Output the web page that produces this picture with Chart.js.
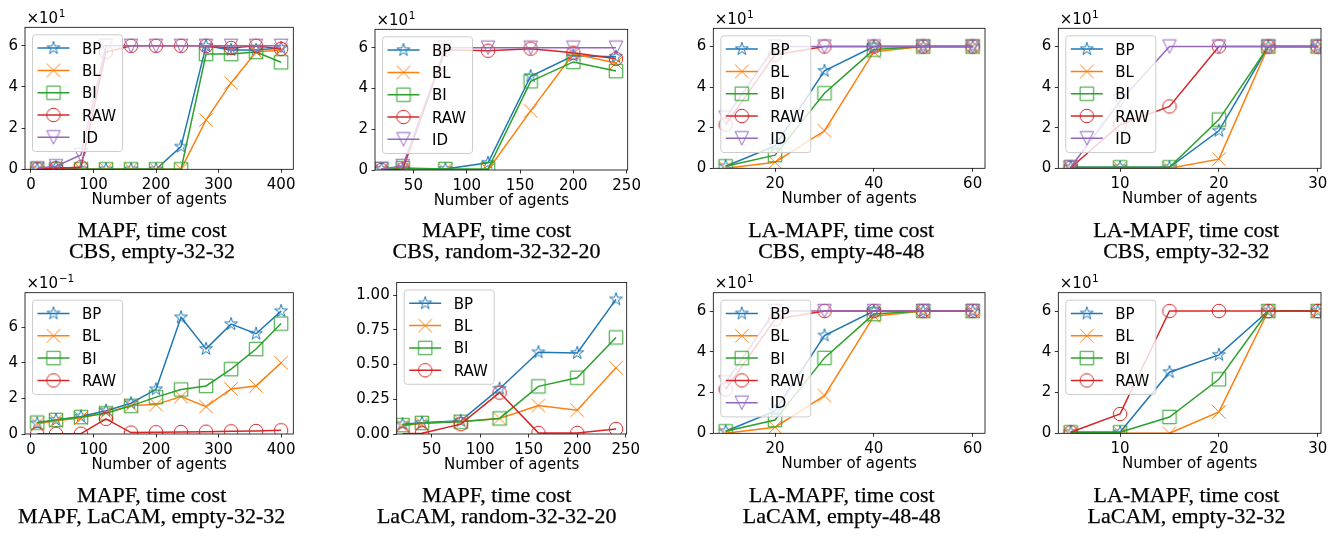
<!DOCTYPE html>
<html><head><meta charset="utf-8">
<script src="https://cdn.jsdelivr.net/npm/chart.js@4.4.0/dist/chart.umd.min.js"></script>
<style>
html,body{margin:0;padding:0;background:#fff;}
#wrap{position:relative;width:1340px;height:540px;overflow:hidden;background:#fff;}
#wrap canvas{position:absolute;}
.cap{position:absolute;font-family:"Liberation Serif","DejaVu Serif",serif;font-size:22px;line-height:22px;color:#000;white-space:nowrap;transform:translateX(-50%);-webkit-text-stroke:0.25px #000;}
</style></head><body><div id="wrap"></div>
<script>
// ---------- data ----------
const seriesNames = ['BP','BL','BI','RAW','ID'];

// Panel 1: MAPF, CBS, empty-32-32 (time cost, s)
const x1 = [10,40,80,120,160,200,240,280,320,360,400];
const bp1 = [0,1,0,0,0,0,11,60,58,58,59];
const bl1 = [0,0,0,0,0,0,0,24,42,57,58];
const bi1 = [0,0,0,0,0,0,0,56,56,57,52];
const raw1 = [0,0.5,1,57,60,60,60,60,59,60,58.5];
const id1 = [0.5,1.5,7,60,60,60,60,60,60,60,60];

// Panel 2: MAPF, CBS, random-32-32-20
const x2 = [20,40,80,120,160,200,240];
const bp2 = [0.5,0.5,0.5,3.5,46,56,55.5];
const bl2 = [0,0,0,0,29,57,52.5];
const bi2 = [0.5,1,0.5,0.5,43.5,53,48.5];
const raw2 = [0,0.3,59,58.5,59.5,57.5,54.5];
const id2 = [0.5,2,60,60,60,60,60];

// Panel 3: LA-MAPF, CBS, empty-48-48
const x3 = [10,20,30,40,50,60];
const bp3 = [1,11,48,60,60,60];
const bl3 = [0,3,18.5,57.5,60,60];
const bi3 = [1,6.5,37,58.5,60,60];
const raw3 = [21.5,56,60,60,60,60];
const id3 = [25,60,60,60,60,60];

// Panel 4: LA-MAPF, CBS, empty-32-32
const x4 = [5,10,15,20,25,30];
const bp4 = [0.5,0.5,0.5,18.5,60,60];
const bl4 = [0,0,0,4.5,60,60];
const bi4 = [0.5,0.5,0.5,24,60,60];
const raw4 = [0.3,21.5,30.5,60,60,60];
const id4 = [0.5,33,60,60,60,60];

// Panel 5: MAPF, LaCAM, empty-32-32
const x5 = [10,40,80,120,160,200,240,280,320,360,400];
const bp5 = [0.060,0.079,0.098,0.131,0.173,0.251,0.655,0.478,0.617,0.563,0.690];
const bl5 = [0.058,0.075,0.090,0.120,0.160,0.165,0.210,0.154,0.253,0.270,0.400];
const bi5 = [0.064,0.079,0.095,0.116,0.158,0.207,0.250,0.270,0.364,0.477,0.620];
const raw5 = [0.001,0.001,0.002,0.085,0.008,0.010,0.011,0.013,0.015,0.017,0.021];

// Panel 6: MAPF, LaCAM, random-32-32-20
const x6 = [20,40,80,120,160,200,240];
const bp6 = [0.070,0.081,0.095,0.326,0.588,0.583,0.969];
const bl6 = [0.060,0.075,0.090,0.112,0.205,0.171,0.476];
const bi6 = [0.064,0.080,0.088,0.112,0.343,0.405,0.695];
const raw6 = [0.002,0.005,0.071,0.298,0.008,0.008,0.036];

// Panel 7: LA-MAPF, LaCAM, empty-48-48
const x7 = [10,20,30,40,50,60];
const bp7 = [1,11,48,60,60,60];
const bl7 = [0,3,18.5,57.5,60,60];
const bi7 = [1,6.5,37,58.5,60,60];
const raw7 = [21.5,56,60,60,60,60];
const id7 = [25,60,60,60,60,60];

// Panel 8: LA-MAPF, LaCAM, empty-32-32
const x8 = [5,10,15,20,25,30];
const bp8 = [0.5,0.5,30,38.5,60,60];
const bl8 = [0,0,0,10.5,60,60];
const bi8 = [0.5,0.5,8,26.5,60,60];
const raw8 = [0.5,9.5,60,60,60,60];

// ticks
const xTicksA = [0,100,200,300,400];
const xTicksB = [50,100,150,200,250];
const xTicksC = [20,40,60];
const xTicksD = [10,20,30];
const yTicksTen = [0,20,40,60];
const yLabelsTen = ['0','2','4','6'];
const yTicksTenth = [0,0.2,0.4,0.6];
const yLabelsTenth = ['0','2','4','6'];
const yTicksUnit = [0,0.25,0.5,0.75,1.0];
const yLabelsUnit = ['0.00','0.25','0.50','0.75','1.00'];

const captions = [
  ['MAPF, time cost','CBS, empty-32-32'],
  ['MAPF, time cost','CBS, random-32-32-20'],
  ['LA-MAPF, time cost','CBS, empty-48-48'],
  ['LA-MAPF, time cost','CBS, empty-32-32'],
  ['MAPF, time cost','MAPF, LaCAM, empty-32-32'],
  ['MAPF, time cost','LaCAM, random-32-32-20'],
  ['LA-MAPF, time cost','LaCAM, empty-48-48'],
  ['LA-MAPF, time cost','LaCAM, empty-32-32']
];

// ---------- style ----------
const colors = ['#1f77b4','#ff7f0e','#2ca02c','#d62728','#9467bd'];
const shapes = ['star','x','square','circle','tri_down'];
const FONT = '"DejaVu Sans", Verdana, sans-serif';

function makeMarker(shape, color){
  const S = 20, c = document.createElement('canvas'); c.width = S; c.height = S;
  const g = c.getContext('2d'); const h = 6.75, cx = S/2, cy = S/2;
  g.strokeStyle = color; g.lineWidth = 1; g.beginPath();
  if (shape === 'circle') g.arc(cx, cy, h, 0, Math.PI*2);
  else if (shape === 'square') g.rect(cx-h, cy-h, 2*h, 2*h);
  else if (shape === 'x') { g.moveTo(cx-h,cy-h); g.lineTo(cx+h,cy+h); g.moveTo(cx+h,cy-h); g.lineTo(cx-h,cy+h); }
  else if (shape === 'tri_down') { g.moveTo(cx, cy+h); g.lineTo(cx-h, cy-h); g.lineTo(cx+h, cy-h); g.closePath(); }
  else if (shape === 'star') {
    const r2 = h*0.381966;
    for (let i=0;i<10;i++){ const r = i%2 ? r2 : h; const a = -Math.PI/2 + i*Math.PI/5;
      const px = cx + r*Math.cos(a), py = cy + r*Math.sin(a); if (i) g.lineTo(px,py); else g.moveTo(px,py); }
    g.closePath();
  }
  g.stroke(); return c;
}
const markers = shapes.map((s,i)=>makeMarker(s, colors[i]));

const cols = [0,335,670,1005], rows = [0,270];
const panels = [
  {c:0,r:0,L:25,R:293.3,T:27.3,B:169.3,xmin:-9.5,xmax:419.5,ymax:69,xt:xTicksA,yt:yTicksTen,yl:yLabelsTen,off:['×10','1'],x:x1,s:[bp1,bl1,bi1,raw1,id1],cap:captions[0],cx:152},
  {c:1,r:0,L:375,R:627.7,T:29.3,B:170,xmin:14,xmax:251,ymax:69,xt:xTicksB,yt:yTicksTen,yl:yLabelsTen,off:['×10','1'],x:x2,s:[bp2,bl2,bi2,raw2,id2],cap:captions[1],cx:496.5},
  {c:2,r:0,L:713.3,R:985,T:28.3,B:168.3,xmin:7.5,xmax:62.5,ymax:69,xt:xTicksC,yt:yTicksTen,yl:yLabelsTen,off:['×10','1'],x:x3,s:[bp3,bl3,bi3,raw3,id3],cap:captions[2],cx:841.3},
  {c:3,r:0,L:1058.3,R:1321,T:28.3,B:168.3,xmin:3.75,xmax:30.33,ymax:69,xt:xTicksD,yt:yTicksTen,yl:yLabelsTen,off:['×10','1'],x:x4,s:[bp4,bl4,bi4,raw4,id4],cap:captions[3],cx:1186.3},
  {c:0,r:1,L:25,R:293.3,T:292.7,B:434,xmin:-9.5,xmax:419.5,ymax:0.7935,xt:xTicksA,yt:yTicksTenth,yl:yLabelsTenth,off:['×10','−1'],x:x5,s:[bp5,bl5,bi5,raw5],cap:captions[4],cx:151.7},
  {c:1,r:1,L:396.7,R:626.7,T:281.7,B:434,xmin:14,xmax:251,ymax:1.09,xt:xTicksB,yt:yTicksUnit,yl:yLabelsUnit,off:null,x:x6,s:[bp6,bl6,bi6,raw6],cap:captions[5],cx:496.7},
  {c:2,r:1,L:713.3,R:985,T:292.7,B:433.3,xmin:7.5,xmax:62.5,ymax:69,xt:xTicksC,yt:yTicksTen,yl:yLabelsTen,off:['×10','1'],x:x7,s:[bp7,bl7,bi7,raw7,id7],cap:captions[6],cx:841.7},
  {c:3,r:1,L:1058.3,R:1321,T:292.7,B:433.3,xmin:3.75,xmax:30.33,ymax:69,xt:xTicksD,yt:yTicksTen,yl:yLabelsTen,off:['×10','1'],x:x8,s:[bp8,bl8,bi8,raw8],cap:captions[7],cx:1186.5}
];

const deco = {
  id: 'deco',
  afterDatasetsDraw(chart){
    const p = chart.options.plugins.deco.p; const ctx = chart.ctx; const a = chart.chartArea;
    ctx.save();
    ctx.strokeStyle = '#000'; ctx.lineWidth = 0.8;
    ctx.strokeRect(a.left, a.top, a.right-a.left, a.bottom-a.top);
    const n = p.s.length; const lx = a.left+7.5, ly = a.top+7.5, lw = 90, lh = 12 + n*14.94 + (n-1)*7.5;
    ctx.beginPath();
    if (ctx.roundRect) ctx.roundRect(lx, ly, lw, lh, 3); else ctx.rect(lx, ly, lw, lh);
    ctx.fillStyle = 'rgba(255,255,255,0.8)'; ctx.fill();
    ctx.strokeStyle = '#cccccc'; ctx.lineWidth = 1; ctx.stroke();
    ctx.font = '15px ' + FONT; ctx.textAlign = 'left'; ctx.textBaseline = 'alphabetic';
    for (let i=0;i<n;i++){
      const cy = ly + 13.3 + i*22.3;
      ctx.strokeStyle = colors[i]; ctx.lineWidth = 1.5;
      ctx.beginPath(); ctx.moveTo(lx+5, cy); ctx.lineTo(lx+37, cy); ctx.stroke();
      ctx.drawImage(markers[i], lx+21-10, cy-10);
      ctx.fillStyle = '#000'; ctx.fillText(seriesNames[i], lx+49.5, cy+5.5);
    }
    ctx.restore();
  },
  afterDraw(chart){
    const p = chart.options.plugins.deco.p; const ctx = chart.ctx; const a = chart.chartArea;
    ctx.save(); ctx.fillStyle = '#000'; ctx.textBaseline = 'alphabetic';
    ctx.font = '15px ' + FONT; ctx.textAlign = 'center';
    ctx.fillText('Number of agents', (a.left+a.right)/2, a.bottom+35);
    if (p.off){
      ctx.textAlign = 'left';
      const bx = a.left+1.5, by = a.top-4.5;
      ctx.fillText(p.off[0], bx, by);
      const w = ctx.measureText(p.off[0]).width;
      ctx.font = '10.5px ' + FONT;
      ctx.fillText(p.off[1], bx+w+0.5, by-6);
    }
    ctx.restore();
  }
};

Chart.defaults.font.family = FONT;
Chart.defaults.color = '#000';

const wrap = document.getElementById('wrap');
panels.forEach(p => {
  const left = cols[p.c], top = rows[p.r];
  const cv = document.createElement('canvas');
  cv.width = 335; cv.height = 270;
  cv.style.left = left+'px'; cv.style.top = top+'px'; cv.style.width='335px'; cv.style.height='270px';
  wrap.appendChild(cv);
  const datasets = p.s.map((arr,k) => ({
    label: seriesNames[k],
    data: p.x.map((xv,j) => ({x: xv, y: arr[j]})),
    borderColor: colors[k], backgroundColor: colors[k], borderWidth: 1.5,
    pointStyle: markers[k], pointRadius: 7, pointHoverRadius: 7,
    fill: false, tension: 0, order: 10-k
  }));
  new Chart(cv, {
    type: 'line',
    data: {datasets},
    plugins: [deco],
    options: {
      responsive: false, animation: false, events: [], devicePixelRatio: 1,
      layout: {padding: {left: 0, top: p.T - top, right: left + 335 - p.R, bottom: 0}},
      plugins: {legend: {display:false}, tooltip: {enabled:false}, deco: {p}},
      scales: {
        x: {type:'linear', min:p.xmin, max:p.xmax,
          afterBuildTicks: s => { s.ticks = p.xt.map(v => ({value:v})); },
          afterFit: s => { s.height = top + 270 - p.B; },
          ticks: {font:{size:15, family:FONT}, color:'#000', padding:3.5, maxRotation:0, autoSkip:false, callback: v => String(v)},
          grid: {drawOnChartArea:false, drawTicks:true, tickLength:3.5, color:'#000', lineWidth:0.8, tickWidth:0.8},
          border: {display:false}
        },
        y: {type:'linear', min:0, max:p.ymax,
          afterBuildTicks: s => { s.ticks = p.yt.map(v => ({value:v})); },
          afterFit: s => { s.width = p.L - left; },
          ticks: {font:{size:15, family:FONT}, color:'#000', padding:3.5, autoSkip:false, callback: (v,i) => p.yl[i]},
          grid: {drawOnChartArea:false, drawTicks:true, tickLength:3.5, color:'#000', lineWidth:0.8, tickWidth:0.8},
          border: {display:false}
        }
      }
    }
  });
  const rowBase = p.r === 0 ? [237.3, 258.8] : [502.3, 523.8];
  p.cap.forEach((t,i) => {
    const d = document.createElement('div'); d.className = 'cap'; d.textContent = t;
    d.style.left = p.cx + 'px'; d.style.top = (rowBase[i] - 18.4) + 'px';
    wrap.appendChild(d);
  });
});
</script></body></html>
